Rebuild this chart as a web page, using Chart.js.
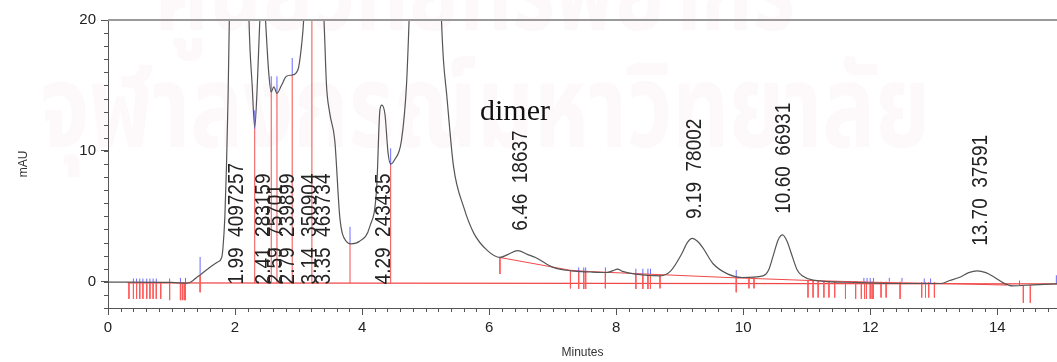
<!DOCTYPE html>
<html>
<head>
<meta charset="utf-8">
<script src="https://cdn.jsdelivr.net/npm/chart.js@4"></script>
<style>
  body { margin: 0; background: #fff; }
  canvas { display: block; }
</style>
</head>
<body>
<canvas id="chart" width="1057" height="362"></canvas>
<script>
// chromatogram trace, [minutes, mAU]; values above 20 are off scale and get clipped
const trace = [
  [0, -0.02], [0.3, -0.02], [1.0, -0.05], [1.25, -0.1], [1.31, 0], [1.4, 0.35], [1.47, 0.6],
  [1.6, 1.1], [1.72, 1.5], [1.79, 1.86], [1.81, 2.6], [1.84, 5], [1.865, 8.8], [1.89, 14],
  [1.91, 20], [1.99, 60], [2.15, 40], [2.22, 20], [2.27, 15], [2.31, 11.8], [2.35, 15],
  [2.39, 20], [2.435, 24], [2.48, 20], [2.53, 16], [2.57, 14.5], [2.61, 14.9], [2.66, 14.4],
  [2.73, 15.0], [2.81, 15.7], [2.9, 15.8], [2.99, 16.2], [3.05, 18.2], [3.08, 20], [3.2, 35],
  [3.4, 20], [3.44, 15], [3.49, 12.9], [3.57, 10.8], [3.65, 4.9], [3.75, 3.1], [3.83, 2.9],
  [3.96, 3.1], [4.12, 4.2], [4.23, 7.2], [4.28, 13.1], [4.31, 13.5], [4.36, 12.8], [4.41, 9.8],
  [4.45, 9.0], [4.51, 9.3], [4.62, 10.8], [4.7, 15.1], [4.74, 20], [5.0, 60], [5.25, 20],
  [5.28, 17], [5.33, 14.4], [5.44, 8.8], [5.6, 5.7], [5.76, 3.7], [5.97, 2.4], [6.17, 1.86],
  [6.3, 2.1], [6.45, 2.38], [6.6, 2.1], [6.73, 1.86], [7.01, 1.1], [7.29, 0.84], [7.6, 0.75],
  [7.85, 0.71], [7.95, 0.85], [8.02, 0.97], [8.1, 0.8], [8.3, 0.59], [8.69, 0.46], [8.86, 0.84],
  [9.03, 2.12], [9.12, 3.0], [9.2, 3.32], [9.28, 3.1], [9.36, 2.63], [9.53, 1.36], [9.76, 0.59],
  [9.98, 0.33], [10.31, 0.46], [10.4, 0.9], [10.48, 2.12], [10.55, 3.2], [10.62, 3.58],
  [10.69, 3.1], [10.76, 2.12], [10.85, 0.9], [10.93, 0.46], [11.1, 0.13], [11.77, -0.05],
  [12.33, -0.13], [13.12, -0.13], [13.25, 0.1], [13.4, 0.33], [13.55, 0.7], [13.68, 0.84],
  [13.82, 0.7], [13.96, 0.33], [14.1, -0.1], [14.24, -0.31], [14.57, -0.23], [14.94, -0.15]
];

// integration baselines (red)
const baseLine = [[0.31, -0.08], [14.94, -0.15]];
const slopedBase = [
  [6.17, 1.86], [7.28, 0.88], [7.6, 0.78], [8.69, 0.55], [9.9, 0.3], [11.05, 0.1],
  [12.2, -0.05], [13.1, -0.12], [14.15, -0.25]
];

// peak boundary drop lines: minutes and height reached
const dropTimes = [2.31, 2.57, 2.66, 2.90, 3.21, 3.81, 4.45];
const dropTops = [11.8, 14.6, 14.4, 15.8, 25, 2.9, 9.0];

// red event marks [minutes, top, bottom]
const redMarks = [
  [0.33, -0.05, -1.3], [0.40, -0.05, -1.3], [0.45, -0.05, -1.3], [0.50, -0.05, -1.3],
  [0.55, -0.05, -1.3], [0.61, -0.05, -1.3], [0.66, -0.05, -1.3], [0.71, -0.05, -1.3],
  [0.76, -0.05, -1.3], [0.83, -0.05, -1.3], [0.97, -0.05, -1.4], [1.14, -0.05, -1.4],
  [1.17, -0.05, -1.4], [1.20, -0.05, -1.4], [1.22, -0.05, -1.4], [1.45, 0.5, -0.8],
  [6.17, 1.86, 0.6], [7.28, 0.88, -0.5], [7.41, 0.8, -0.55], [7.49, 0.8, -0.55],
  [7.52, 0.8, -0.55], [7.83, 0.72, -0.5], [8.31, 0.6, -0.55], [8.42, 0.6, -0.55],
  [8.50, 0.6, -0.55], [8.54, 0.6, -0.55], [8.69, 0.5, -0.5], [9.89, 0.33, -0.8],
  [10.09, 0.33, -0.5], [10.17, 0.33, -0.5], [11.02, 0.1, -1.2], [11.10, 0.1, -1.2],
  [11.18, 0.05, -1.2], [11.27, 0.05, -1.2], [11.35, 0.05, -1.2], [11.44, 0.05, -1.2],
  [11.61, 0.0, -1.3], [11.77, 0.0, -1.3], [11.86, 0.0, -1.3], [11.91, 0.0, -1.3],
  [11.94, 0.0, -1.3], [12.0, 0.0, -1.3], [12.03, 0.0, -1.3], [12.05, 0.0, -1.3],
  [12.17, 0.0, -1.2], [12.25, 0.0, -1.2], [12.47, 0.0, -1.3], [12.81, -0.05, -1.2],
  [12.87, -0.05, -1.2], [12.92, -0.05, -1.2], [13.01, -0.05, -1.2], [14.41, -0.3, -1.6],
  [14.52, -0.3, -1.6]
];

// blue event marks [minutes, bottom, top]
const blueMarks = [
  [0.40, -0.05, 0.25], [0.45, -0.05, 0.25], [0.50, -0.05, 0.25], [0.55, -0.05, 0.25],
  [0.61, -0.05, 0.25], [0.66, -0.05, 0.25], [0.71, -0.05, 0.25], [0.76, -0.05, 0.25],
  [0.97, -0.05, 0.25], [1.14, -0.05, 0.3], [1.22, -0.05, 0.3], [1.45, 0.6, 1.9],
  [2.31, 11.7, 13.1], [2.57, 14.5, 15.7], [2.66, 14.4, 15.7], [2.90, 15.8, 17.1],
  [3.81, 2.9, 4.2], [4.45, 8.9, 10.2], [7.41, 0.7, 1.1], [7.49, 0.7, 1.1], [7.52, 0.7, 1.1],
  [7.83, 0.7, 1.1], [8.31, 0.6, 1.0], [8.42, 0.6, 1.0], [8.50, 0.6, 1.0], [8.54, 0.6, 1.0],
  [9.89, 0.33, 0.9], [11.9, 0.0, 0.3], [11.95, 0.0, 0.3], [12.0, 0.0, 0.3], [12.05, 0.0, 0.3],
  [12.3, 0.0, 0.3], [12.5, 0.0, 0.3], [12.85, -0.1, 0.25], [12.95, -0.1, 0.25],
  [14.35, -0.3, 0.1], [14.93, -0.15, 0.5]
];

// peak annotations: retention time, area, where the label starts (mAU)
const peakTimes = [1.99, 2.41, 2.59, 2.79, 3.14, 3.35, 4.29, 6.46, 9.19, 10.60, 13.70];
const peakAreas = [4097257, 283159, 75701, 239899, 350904, 463734, 243435, 18637, 78002, 66931, 37591];
const labelBase = [-0.2, -0.2, -0.2, -0.2, -0.2, -0.2, -0.2, 3.9, 4.8, 5.2, 2.75];

const watermark = ['ศูนย์วิทยทรัพยากร', 'จุฬาลงกรณ์มหาวิทยาลัย'];

function pts(list) {
  return list.map(p => ({ x: p[0], y: p[1] }));
}

// vertical segments, separated by gaps
function ticks(list) {
  const out = [];
  list.forEach(m => {
    out.push({ x: m[0], y: m[1] }, { x: m[0], y: m[2] }, { x: m[0], y: null });
  });
  return out;
}

const dropSegs = dropTimes.map((t, i) => [t, -0.1, dropTops[i]]);

const overlay = {
  id: 'overlay',
  beforeDraw(chart) {
    const ctx = chart.ctx;
    ctx.save();
    ctx.fillStyle = 'rgba(200, 90, 140, 0.045)';
    ctx.textAlign = 'left';
    ctx.textBaseline = 'alphabetic';
    ctx.font = 'bold 116px "Noto Sans Thai", "Noto Sans", sans-serif';
    ctx.fillText(watermark[0], 155, 30, 640);
    ctx.fillText(watermark[1], 40, 147, 890);
    ctx.restore();
  },
  afterDatasetsDraw(chart) {
    const ctx = chart.ctx;
    const x = chart.scales.x, y = chart.scales.y;
    ctx.save();
    ctx.fillStyle = '#222';
    ctx.font = '19px "Liberation Sans", Arial, sans-serif';
    ctx.textAlign = 'left';
    ctx.textBaseline = 'middle';
    peakTimes.forEach((t, i) => {
      ctx.save();
      ctx.translate(x.getPixelForValue(t) + 3, y.getPixelForValue(labelBase[i]));
      ctx.rotate(-Math.PI / 2);
      ctx.scale(1, 1.15);
      ctx.fillText(t.toFixed(2) + '  ' + peakAreas[i], 0, 0);
      ctx.restore();
    });
    ctx.fillStyle = '#111';
    ctx.font = '30px "Liberation Serif", "Times New Roman", serif';
    ctx.textBaseline = 'alphabetic';
    ctx.fillText('dimer', 480, 120);
    ctx.restore();
  },
  afterDraw(chart) {
    const ctx = chart.ctx;
    const x = chart.scales.x, y = chart.scales.y;
    const a = chart.chartArea;
    ctx.save();
    ctx.strokeStyle = '#555';
    ctx.lineWidth = 1;
    ctx.beginPath();
    for (let v = 0; v < x.max; v += 0.2) {
      const px = Math.round(x.getPixelForValue(v)) + 0.5;
      ctx.moveTo(px, a.bottom);
      ctx.lineTo(px, a.bottom + 4);
    }
    for (let v = -2; v <= 20; v += 1) {
      const py = Math.round(y.getPixelForValue(v)) + 0.5;
      ctx.moveTo(a.left, py);
      ctx.lineTo(a.left - 4, py);
    }
    ctx.stroke();
    ctx.strokeStyle = '#9a9a9a';
    ctx.lineWidth = 2;
    ctx.beginPath();
    ctx.moveTo(a.left, a.top);
    ctx.lineTo(a.right, a.top);
    ctx.stroke();
    ctx.restore();
  }
};

const lineStyle = { pointRadius: 0, fill: false, spanGaps: false, tension: 0 };

new Chart(document.getElementById('chart').getContext('2d'), {
  type: 'line',
  data: {
    datasets: [
      { ...lineStyle, data: pts(trace), borderColor: '#555', borderWidth: 1.2, cubicInterpolationMode: 'monotone' },
      { ...lineStyle, data: ticks(blueMarks), borderColor: '#6b6bff', borderWidth: 1 },
      { ...lineStyle, data: ticks(dropSegs), borderColor: '#f05050', borderWidth: 1 },
      { ...lineStyle, data: ticks(redMarks), borderColor: '#ff5a5a', borderWidth: 1 },
      { ...lineStyle, data: pts(slopedBase), borderColor: '#f04848', borderWidth: 1 },
      { ...lineStyle, data: pts(baseLine), borderColor: '#f04848', borderWidth: 1.2 }
    ]
  },
  options: {
    responsive: false,
    animation: false,
    events: [],
    layout: { padding: { top: 20, right: 0, left: 0, bottom: 0 } },
    plugins: { legend: { display: false }, tooltip: { enabled: false } },
    scales: {
      x: {
        type: 'linear',
        min: 0,
        max: 14.94,
        afterFit: s => { s.height = 54; },
        ticks: { stepSize: 2, includeBounds: false, maxRotation: 0, padding: 4, color: '#222',
                 font: { family: '"Liberation Sans", Arial, sans-serif', size: 15 } },
        grid: { drawOnChartArea: false, tickLength: 7, color: '#555' },
        border: { color: '#555', width: 1 },
        title: { display: true, text: 'Minutes', color: '#333', padding: { top: 0, bottom: 2 },
                 font: { family: '"Liberation Sans", Arial, sans-serif', size: 12 } }
      },
      y: {
        min: -2,
        max: 20,
        afterFit: s => { s.width = 108; },
        ticks: { stepSize: 10, includeBounds: false, padding: 5, color: '#222',
                 font: { family: '"Liberation Sans", Arial, sans-serif', size: 15 } },
        grid: { drawOnChartArea: false, tickLength: 7, color: '#555' },
        border: { color: '#555', width: 1 },
        title: { display: true, text: 'mAU', color: '#333', padding: { top: 16, bottom: 0 },
                 font: { family: '"Liberation Sans", Arial, sans-serif', size: 12 } }
      }
    }
  },
  plugins: [overlay]
});
</script>
</body>
</html>
